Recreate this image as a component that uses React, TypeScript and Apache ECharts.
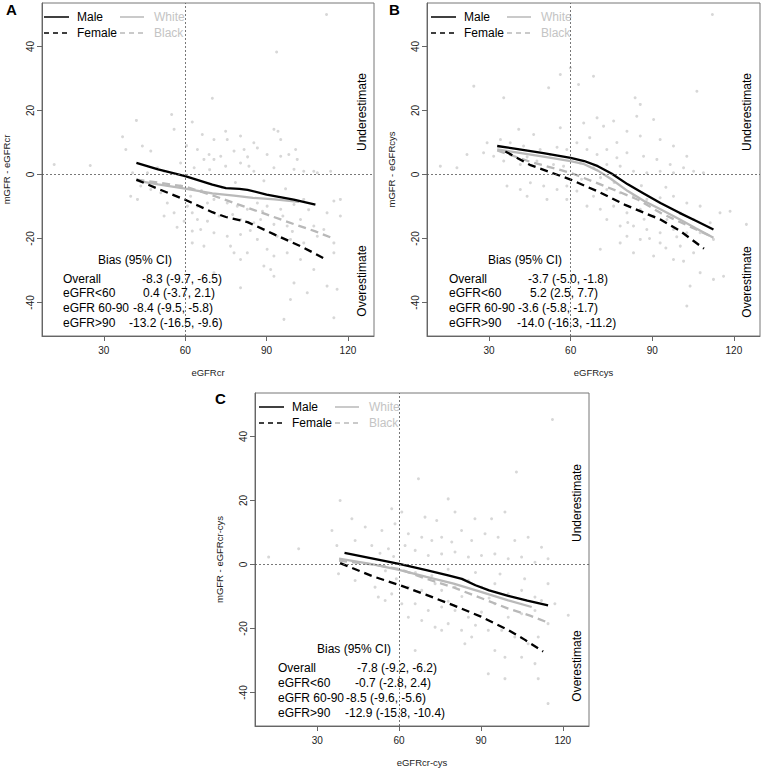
import React, { useEffect, useRef } from "react";
import * as echarts from "echarts";

const X_TICKS = [30, 60, 90, 120];
const Y_TICKS = [-40, -20, 0, 20, 40];
const X_NAMES = ["eGFRcr", "eGFRcys", "eGFRcr-cys"];
const Y_NAMES = ["mGFR - eGFRcr", "mGFR - eGFRcys", "mGFR - eGFRcr-cys"];
const PANEL_LABELS = ["A", "B", "C"];
const LEGEND_BLACK = ["Male", "Female"];
const LEGEND_GRAY = ["White", "Black"];
const BIAS_TITLE = "Bias (95% CI)";
const BIAS_ROWS = ["Overall", "eGFR<60", "eGFR 60-90", "eGFR>90"];
const BIAS_A = ["-8.3 (-9.7, -6.5)", "0.4 (-3.7, 2.1)", "-8.4 (-9.5, -5.8)", "-13.2 (-16.5, -9.6)"];
const BIAS_B = ["-3.7 (-5.0, -1.8)", "5.2 (2.5, 7.7)", "-3.6 (-5.8, -1.7)", "-14.0 (-16.3, -11.2)"];
const BIAS_C = ["-7.8 (-9.2, -6.2)", "-0.7 (-2.8, 2.4)", "-8.5 (-9.6, -5.6)", "-12.9 (-15.8, -10.4)"];
const REF_X = 60;
const REF_Y = 0;

// Panel A
const scatterA = [
  [112.1, 50], [93.7, 38.3], [70.0, 23.8], [55.0, 18.75], [42.0, 16.9], [62.6, 16.4], [36.9, 11.8], [55.9, 14.1],
  [66.3, 12.5], [74.9, 13.5], [75.5, 10.9], [70.6, 10.9], [80.4, 12.0], [85.3, 9.9], [92.7, 14.1], [94.2, 13.5],
  [95.2, 10.9], [100.7, 7.8], [38.1, 7.8], [44.2, 8.9], [47.3, 7.3], [64.5, 7.8], [68.8, 6.25], [73.1, 5.7],
  [78.0, 7.3], [81.7, 7.8], [86.6, 8.3], [90.2, 6.25], [95.2, 5.7], [98.2, 6.25], [101.3, 4.7], [80.4, 3.6],
  [83.5, 2.6], [74.9, 2.6], [70.6, 4.7], [66.9, 4.7], [63.3, 2.1], [58.3, 3.6], [49.8, 2.1], [11.7, 3.1],
  [25.0, 2.8], [40.6, 0.5], [46.1, 0.5], [52.2, 1.0], [85.3, 1.0], [92.7, 2.1], [100.1, 1.6], [103.7, 1.0],
  [107.4, 1.0], [108.7, 0.5], [113.6, 1.0], [42.4, -7.8], [47.3, -4.7], [51.0, -5.7], [62.0, -6.8], [64.5, -9.9],
  [68.2, -8.9], [70.6, -7.8], [75.5, -8.9], [79.2, -9.9], [82.9, -10.9], [86.6, -8.9], [90.2, -9.9], [95.2, -10.9],
  [100.1, -9.4], [103.7, -7.8], [114.8, -8.3], [117.2, -7.8], [62.6, -12.0], [64.5, -14.1], [68.2, -14.6], [59.6, -14.6],
  [55.9, -12.0], [52.2, -13.0], [80.4, -14.1], [85.3, -15.1], [87.8, -14.1], [92.7, -15.6], [97.6, -16.1], [102.5, -14.1],
  [107.4, -16.1], [111.1, -17.2], [62.6, -17.7], [65.7, -17.2], [70.6, -18.2], [75.5, -19.3], [80.4, -18.75], [86.6, -20.3],
  [93.9, -19.3], [98.8, -20.3], [103.7, -21.4], [108.7, -19.3], [117.2, -13.0], [112.3, -12.0], [62.6, -21.4], [66.9, -22.4],
  [76.7, -22.4], [82.9, -24.5], [90.2, -23.4], [92.7, -25.5], [97.6, -24.5], [102.5, -26.6], [107.4, -29.7], [114.8, -24.5],
  [114.8, -21.4], [80.4, -26.6], [78.0, -24.5], [89.0, -28.6], [91.5, -29.7], [92.7, -31.8], [112.3, -34.9], [116.0, -35.9],
  [80.4, -35.4], [70.6, -30.7], [98.8, -39.1], [96.4, -45.3], [114.8, -44.8], [105.0, -37.0], [100.1, -33.9], [39.9, -6.8],
  [53.4, -8.9], [58.3, -3.6], [60.8, -9.9], [43.6, -3.6], [57.0, -16.5], [72.5, -13.0], [77.5, -12.5], [84.0, -17.5],
  [88.5, -11.5], [96.0, -13.0], [99.5, -17.8], [105.5, -11.0], [66.0, -5.0], [73.5, -4.0], [78.5, -2.5], [89.0, -2.0],
  [97.0, -4.5], [60.5, 9.0], [69.0, 1.5], [83.0, 5.5]
];
const maleA = [[42, 3.6], [50, 1.6], [60, -0.5], [70, -3.2], [75, -4.3], [80, -4.5], [83, -4.8], [90, -6.3], [100, -7.9], [108, -9.4]];
const femaleA = [[42, -1.6], [50, -4.5], [60, -7.9], [70, -11.8], [75, -13.3], [83, -14.9], [93, -18.8], [103, -22.6], [112, -26.6]];
const whiteA = [[42, -1.9], [50, -3.1], [60, -4.4], [70, -5.9], [78, -6.6], [85, -7.3], [93, -7.8], [102, -8.6]];
const blackA = [[42, -1.6], [50, -2.5], [60, -3.8], [70, -6.5], [80, -9.5], [90, -12.5], [100, -15.5], [108, -17.8], [114, -19.8]];

// Panel B
const scatterB = [
  [112.1, 50], [124.6, -15.6], [56.2, 31.25], [59.9, 33.3], [68.4, 30.7], [62.9, 28.1], [51.9, 27.1], [24.4, 27.6],
  [35.4, 24.0], [83.7, 24.0], [85.6, 21.9], [84.3, 18.2], [69.7, 17.7], [90.5, 17.2], [106.4, 26.0], [40.9, 14.1],
  [46.4, 12.5], [56.2, 14.6], [64.8, 16.1], [72.1, 15.1], [75.8, 16.7], [80.7, 13.5], [85.6, 12.0], [92.9, 10.9],
  [97.8, 8.9], [102.7, 5.7], [34.2, 10.9], [37.8, 9.9], [42.7, 8.9], [48.8, 7.8], [52.5, 6.25], [58.6, 7.8],
  [62.3, 9.9], [66.0, 7.8], [69.7, 6.25], [73.3, 7.8], [77.0, 5.2], [80.7, 6.8], [86.8, 5.7], [91.7, 4.7],
  [96.6, 3.1], [101.5, 2.1], [105.2, 1.0], [108.8, 0.5], [21.9, 6.25], [28.0, 6.8], [29.3, 9.9], [12.1, 2.6],
  [18.2, 2.1], [31.7, 5.7], [35.4, 4.2], [41.5, 3.1], [47.6, 4.2], [53.7, 3.1], [57.4, 2.6], [63.5, 3.6],
  [68.4, 2.1], [73.3, 3.1], [78.2, 2.6], [83.1, 1.0], [88.0, 0.5], [92.9, 1.0], [97.8, 0.5], [36.6, -3.6],
  [41.5, -4.7], [45.2, -2.6], [50.1, -3.6], [55.0, -4.7], [58.6, -3.6], [62.3, -5.2], [68.4, -6.8], [73.3, -4.7],
  [78.2, -5.7], [83.1, -6.8], [88.0, -7.8], [92.9, -7.3], [97.8, -6.8], [102.7, -8.9], [107.6, -9.9], [114.9, -12.0],
  [118.6, -11.5], [44.0, -6.8], [51.3, -7.8], [58.6, -7.8], [66.0, -9.9], [70.9, -10.9], [75.8, -9.9], [80.7, -12.0],
  [85.6, -10.9], [90.5, -13.0], [95.4, -14.1], [100.3, -12.0], [105.2, -14.1], [111.3, -15.1], [73.3, -14.1], [78.2, -16.1],
  [83.1, -16.1], [88.0, -17.2], [92.9, -18.2], [97.8, -17.2], [102.7, -18.2], [107.6, -18.2], [112.5, -20.3], [80.7, -19.3],
  [85.6, -20.3], [92.9, -21.4], [100.3, -22.4], [105.2, -24.5], [78.2, -21.4], [83.1, -24.5], [90.5, -25.5], [97.8, -26.6],
  [101.5, -27.1], [70.9, -23.4], [107.6, -30.7], [112.5, -32.8], [116.2, -31.8], [103.9, -34.9], [102.7, -41.1],
  [64.0, -1.5], [71.0, -1.0], [76.0, -2.5], [86.0, -3.5], [95.0, -4.0], [81.0, -15.0], [89.0, -20.0], [95.0, -23.0],
  [99.0, -19.5], [87.0, -14.0], [67.0, 11.5], [77.0, 10.0], [44.0, 5.5], [55.0, 8.5]
];
const maleB = [[33, 8.9], [40, 8.0], [50, 6.7], [60, 5.2], [65, 4.2], [70, 2.6], [75, 0.3], [81, -3.1], [87, -6.0], [93, -8.9], [100, -12.0], [106, -14.5], [112.5, -17.2]];
const femaleB = [[36, 7.2], [45, 3.0], [60, -1.6], [70, -5.3], [80, -9.5], [93, -14.1], [100, -17.5], [109, -23.2]];
const whiteB = [[33, 7.8], [40, 6.9], [50, 5.6], [60, 4.2], [65, 3.2], [70, 1.2], [75, -1.5], [81, -5.2], [87, -8.3], [93, -10.9], [100, -14.0], [106, -16.8], [112.5, -19.8]];
const blackB = [[33, 7.5], [45, 4.0], [60, 0.5], [70, -2.8], [78, -5.5], [85, -8.0], [93, -12.0], [100, -14.8], [112, -19.5]];

// Panel C
const scatterC = [
  [116.2, 45.3], [103.0, 28.9], [67.1, 26.8], [78.0, 20.5], [38.4, 20.0], [57.3, 17.4], [61.0, 16.4], [69.5, 14.8],
  [73.8, 13.75], [80.5, 16.4], [87.8, 14.3], [93.9, 14.3], [98.8, 16.4], [42.7, 14.3], [47.6, 11.7], [53.7, 10.6],
  [58.5, 12.7], [63.4, 9.6], [68.3, 8.5], [72.0, 7.5], [75.6, 8.5], [79.3, 7.0], [82.9, 10.6], [86.6, 7.5],
  [91.5, 9.6], [96.3, 8.5], [102.4, 7.5], [107.3, 8.5], [112.2, 5.4], [35.4, 10.6], [37.2, 5.9], [23.2, 4.9],
  [12.2, 2.3], [43.9, 7.5], [50.0, 5.9], [56.1, 4.9], [62.2, 5.9], [65.9, 4.4], [70.7, 2.8], [75.6, 3.3],
  [80.5, 3.9], [85.4, 2.3], [90.2, 2.8], [95.1, 3.3], [100.0, 1.8], [104.9, 2.3], [109.8, 0.7], [114.6, 1.8],
  [114.6, -6.0], [117.1, -12.3], [122.0, -15.9], [37.8, -2.9], [43.9, -5.0], [51.2, -7.1], [52.4, -10.2], [54.9, -11.25],
  [57.3, -9.2], [63.4, -7.1], [68.3, -8.1], [73.2, -6.0], [75.6, -8.1], [80.5, -7.1], [85.4, -5.0], [90.2, -7.1],
  [95.1, -6.0], [100.0, -9.2], [104.9, -8.1], [109.8, -10.2], [112.2, -11.25], [61.0, -12.3], [65.9, -12.3], [70.7, -14.4],
  [75.6, -13.3], [80.5, -14.4], [85.4, -16.5], [90.2, -14.9], [95.1, -12.3], [100.0, -16.5], [104.9, -15.4], [109.8, -14.4],
  [114.6, -18.5], [63.4, -16.5], [68.3, -17.5], [73.2, -19.6], [78.0, -18.5], [82.9, -20.6], [86.6, -22.7], [92.7, -20.6],
  [97.6, -20.6], [102.4, -22.7], [107.3, -24.8], [111.0, -22.7], [84.1, -24.8], [95.1, -26.9], [98.8, -29.0], [104.9, -29.0],
  [109.8, -31.0], [92.7, -34.2], [98.8, -35.7], [111.0, -35.7], [114.6, -43.5], [65.9, -26.9], [75.6, -20.6],
  [55.0, -2.0], [59.0, -4.5], [66.0, -2.5], [72.0, -3.5], [78.0, -1.5], [88.0, -2.5], [97.0, -3.0], [106.0, -4.5],
  [58.0, 2.5], [53.0, 3.5], [83.0, -10.0], [93.0, -10.5], [78.0, -11.5], [88.0, -19.0]
];
const maleC = [[40, 3.6], [50, 1.9], [60, 0.2], [70, -1.8], [78, -3.4], [83, -4.5], [88, -6.5], [93, -8.1], [100, -9.8], [107, -11.3], [114.6, -12.8]];
const femaleC = [[38.4, 0.4], [50, -3.6], [60, -6.4], [70, -9.5], [80, -12.8], [90, -16.3], [100, -20.5], [106, -23.5], [112.8, -27.2]];
const whiteC = [[38, 1.8], [50, 0.1], [60, -1.7], [70, -3.9], [80, -6.0], [90, -8.6], [100, -11.2], [108.6, -13.3]];
const blackC = [[38, 1.2], [50, 0.0], [60, -1.4], [70, -4.5], [80, -7.2], [90, -10.5], [100, -13.8], [108, -16.0], [115, -18.3]];

const PANELS = [
  { scatter: scatterA, male: maleA, female: femaleA, white: whiteA, black: blackA, bias: BIAS_A },
  { scatter: scatterB, male: maleB, female: femaleB, white: whiteB, black: blackB, bias: BIAS_B },
  { scatter: scatterC, male: maleC, female: femaleC, white: whiteC, black: blackC, bias: BIAS_C },
];

// Layout (pixels)
const GRIDS = [
  { left: 40, top: 3, width: 334, height: 333 },
  { left: 427, top: 3, width: 333, height: 333 },
  { left: 255, top: 393, width: 334, height: 333 },
];
const LAYOUT = [
  { label: [6, 9], biasTitle: [98, 260], rowX: 63, rowY: [279, 293, 308, 323], valX: [142, 143, 133, 129], under: [362, 112], over: [362, 281] },
  { label: [389, 9], biasTitle: [488, 260], rowX: 449, rowY: [279, 293, 308, 323], valX: [528, 530, 518, 517], under: [747, 112], over: [747, 282] },
  { label: [215, 398], biasTitle: [317, 649], rowX: 278, rowY: [668, 683, 698, 713], valX: [357, 355, 346, 345], under: [577, 503], over: [577, 666] },
];

const FONT = "'Liberation Sans', Arial, Helvetica, sans-serif";
const GRAY_LINE = "#b9b9b9";
const GRAY_TEXT = "#c4c4c4";
const POINT = "#cdcdcd";

function txt(x: number, y: number, text: string, opts: any = {}) {
  return {
    type: "text",
    x,
    y,
    rotation: opts.rotation || 0,
    silent: true,
    style: {
      text,
      fill: opts.fill || "#000",
      fontSize: opts.fontSize || 12,
      fontFamily: FONT,
      fontWeight: opts.fontWeight || "normal",
      align: opts.align || "left",
      verticalAlign: "middle",
      textAlign: opts.align || "left",
      textVerticalAlign: "middle",
    },
  };
}

function seg(x1: number, y1: number, x2: number, y2: number, stroke: string, dash?: number[]) {
  return {
    type: "line",
    silent: true,
    shape: { x1, y1, x2, y2 },
    style: { stroke, lineWidth: 1.5, lineDash: dash || null },
  };
}

function buildGraphics() {
  const g: any[] = [];
  GRIDS.forEach((grid, i) => {
    const L = LAYOUT[i];
    const gx = grid.left;
    const gy = grid.top;
    g.push(txt(L.label[0], L.label[1], PANEL_LABELS[i], { fontSize: 15, fontWeight: "bold" }));
    // legend
    const r1 = gy + 14;
    const r2 = gy + 30;
    g.push(seg(gx + 4, r1, gx + 29, r1, "#000"));
    g.push(seg(gx + 4, r2, gx + 29, r2, "#000", [5, 4]));
    g.push(txt(gx + 37, r1, LEGEND_BLACK[0]));
    g.push(txt(gx + 37, r2, LEGEND_BLACK[1]));
    g.push(seg(gx + 80, r1, gx + 104, r1, GRAY_LINE));
    g.push(seg(gx + 80, r2, gx + 104, r2, GRAY_LINE, [5, 4]));
    g.push(txt(gx + 114, r1, LEGEND_GRAY[0], { fill: GRAY_TEXT }));
    g.push(txt(gx + 114, r2, LEGEND_GRAY[1], { fill: GRAY_TEXT }));
    // bias table
    g.push(txt(L.biasTitle[0], L.biasTitle[1], BIAS_TITLE));
    BIAS_ROWS.forEach((r, k) => {
      g.push(txt(L.rowX, L.rowY[k], r));
      g.push(txt(L.valX[k], L.rowY[k], PANELS[i].bias[k]));
    });
    g.push(txt(L.under[0], L.under[1], "Underestimate", { rotation: Math.PI / 2, align: "center" }));
    g.push(txt(L.over[0], L.over[1], "Overestimate", { rotation: Math.PI / 2, align: "center" }));
  });
  return g;
}

export default function App() {
  const ref = useRef<HTMLDivElement>(null);
  useEffect(() => {
    if (!ref.current) return;
    const chart = echarts.init(ref.current, undefined, { renderer: "svg" });
    const axisColor = "#666";
    const xAxis = GRIDS.map((_, i) => ({
      type: "value",
      gridIndex: i,
      min: 7.2,
      max: 129.6,
      name: X_NAMES[i],
      nameLocation: "middle",
      nameGap: 31,
      nameTextStyle: { fontSize: 9.5, fontFamily: FONT, color: "#222" },
      splitLine: { show: false },
      axisLine: { show: true, onZero: false, lineStyle: { color: axisColor } },
      axisTick: { show: true, length: 5, customValues: X_TICKS, lineStyle: { color: axisColor } },
      axisLabel: { customValues: X_TICKS, fontSize: 10, fontFamily: FONT, color: "#222", margin: 9 },
    }));
    const yAxis = GRIDS.map((_, i) => ({
      type: "value",
      gridIndex: i,
      min: -50.5,
      max: 53.6,
      name: Y_NAMES[i],
      nameLocation: "middle",
      nameGap: 31,
      nameRotate: 90,
      nameTextStyle: { fontSize: 9.5, fontFamily: FONT, color: "#222" },
      splitLine: { show: false },
      axisLine: { show: true, onZero: false, lineStyle: { color: axisColor } },
      axisTick: { show: true, length: 5, customValues: Y_TICKS, lineStyle: { color: axisColor } },
      axisLabel: { customValues: Y_TICKS, fontSize: 10, fontFamily: FONT, color: "#222", margin: 7, rotate: 90 },
    }));
    const series: any[] = [];
    PANELS.forEach((p, i) => {
      series.push({
        type: "scatter",
        xAxisIndex: i,
        yAxisIndex: i,
        data: p.scatter,
        symbolSize: 3,
        itemStyle: { color: POINT },
        silent: true,
        markLine: {
          silent: true,
          symbol: ["none", "none"],
          label: { show: false },
          lineStyle: { color: "#555", type: [2, 2], width: 0.8 },
          data: [{ xAxis: REF_X }, { yAxis: REF_Y }],
        },
      });
      const line = (data: number[][], color: string, dashed: boolean) => ({
        type: "line",
        xAxisIndex: i,
        yAxisIndex: i,
        data,
        showSymbol: false,
        symbol: "none",
        silent: true,
        lineStyle: { color, width: 2.3, type: dashed ? [8, 5] : "solid" },
      });
      series.push(line(p.white, GRAY_LINE, false));
      series.push(line(p.black, GRAY_LINE, true));
      series.push(line(p.male, "#000", false));
      series.push(line(p.female, "#000", true));
    });
    chart.setOption({
      animation: false,
      backgroundColor: "#fff",
      grid: GRIDS.map((g) => ({ ...g, show: true, borderColor: "#777", borderWidth: 1, backgroundColor: "transparent" })),
      xAxis,
      yAxis,
      series,
      graphic: buildGraphics(),
    });
    return () => chart.dispose();
  }, []);
  return <div ref={ref} style={{ position: "absolute", left: 0, top: 0, width: 763, height: 768 }} />;
}
